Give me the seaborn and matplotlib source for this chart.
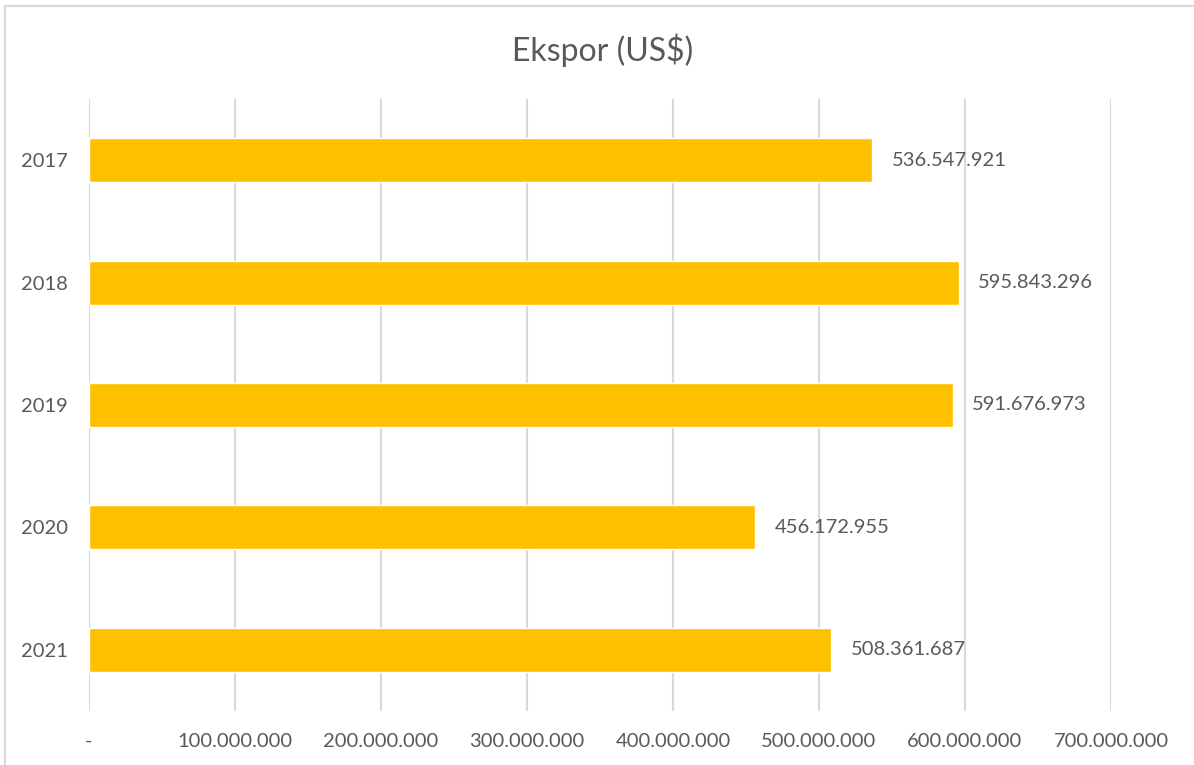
import matplotlib
matplotlib.use("Agg")
import matplotlib.pyplot as plt
from matplotlib.patches import Rectangle
import seaborn as sns
import pandas as pd

years = ["2017", "2018", "2019", "2020", "2021"]
exports = [536547921, 595843296, 591676973, 456172955, 508361687]
tick_values = [0, 100000000, 200000000, 300000000, 400000000, 500000000, 600000000, 700000000]

def fmt_id(v):
    return "-" if v == 0 else f"{v:,.0f}".replace(",", ".")

df = pd.DataFrame({"year": years, "export": exports})

sns.set_theme(style="white")
plt.rcParams["font.family"] = ["Lato", "DejaVu Sans"]

text_color = "#595959"
W, H = 1194, 765
fig = plt.figure(figsize=(W / 100, H / 100), dpi=100)
ax = fig.add_axes([89 / W, 1 - 711 / H, (1111 - 89) / W, (711 - 99) / H])

sns.barplot(data=df, x="export", y="year", orient="h", color="#FFC000",
            saturation=1, width=0.36, ax=ax)

ax.set_xlim(0, 700000000)
ax.set_ylim(4.5, -0.5)
ax.set_xticks(tick_values)
ax.set_xticklabels([fmt_id(v) for v in tick_values])
ax.grid(axis="x", color="#D9D9D9", linewidth=1.5)
ax.set_axisbelow(True)
for s in ax.spines.values():
    s.set_visible(False)
ax.set_xlabel("")
ax.set_ylabel("")
ax.tick_params(axis="x", colors=text_color, labelsize=14.5, length=0, pad=16)
ax.tick_params(axis="y", colors=text_color, labelsize=14.5, length=0, pad=15)

for i, v in enumerate(exports):
    ax.annotate(fmt_id(v), xy=(v, i), xytext=(14, 0), textcoords="offset points",
                va="center", ha="left", fontsize=14.5, color=text_color)

fig.text(603 / W, 1 - 50 / H, "Ekspor (US$)", ha="center", va="center",
         fontsize=23, color=text_color)

fig.patches.append(Rectangle((5 / W, -0.01), 1.0, 1 - 6 / H + 0.01,
                             transform=fig.transFigure, fill=False,
                             edgecolor="#D9D9D9", linewidth=1.5))

fig.savefig("out.png", dpi=100)
